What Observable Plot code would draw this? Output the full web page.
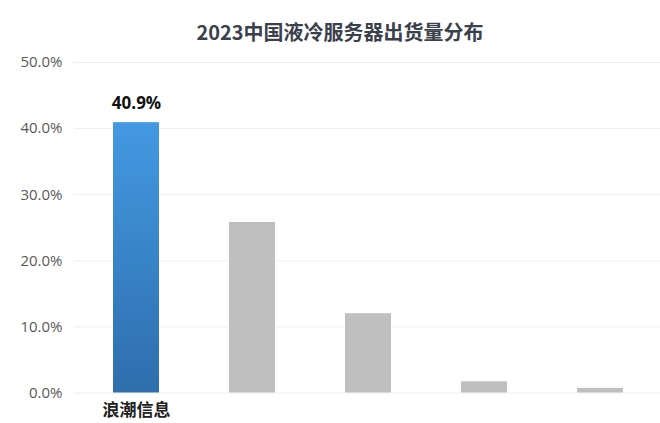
<!DOCTYPE html>
<html>
<head>
<meta charset="utf-8">
<script src="https://cdn.jsdelivr.net/npm/d3@7"></script>
<script src="https://cdn.jsdelivr.net/npm/@observablehq/plot@0.6"></script>
<style>
  body { margin: 0; background: #fff; width: 660px; height: 423px; overflow: hidden; }
  #title { box-sizing: border-box; height: 48px; padding-top: 20px; padding-left: 20px; text-align: center;
    font-family: "Noto Sans CJK SC", "Noto Sans", sans-serif; font-weight: 700; font-size: 20px; line-height: 24px; color: #3a414d; }
  svg { display: block; }
</style>
</head>
<body>
<div id="title">2023中国液冷服务器出货量分布</div>
<div id="chart"></div>
<script>
const title = "2023中国液冷服务器出货量分布";
const categories = ["浪潮信息", "厂商2", "厂商3", "厂商4", "厂商5"];
const shares = [40.9, 25.8, 12.0, 1.7, 0.7];
const yTicks = [0, 10, 20, 30, 40, 50];
const highlight = "浪潮信息";

const data = categories.map((c, i) => ({cat: c, v: shares[i]}));
const main = data.filter(d => d.cat === highlight);
const rest = data.filter(d => d.cat !== highlight);

const chart = Plot.plot({
  width: 660,
  height: 375,
  marginLeft: 76,
  marginRight: 0,
  marginTop: 14,
  marginBottom: 30.5,
  style: {fontFamily: "'Open Sans', 'Noto Sans CJK SC', sans-serif", background: "#fff"},
  x: {domain: categories, paddingInner: 0.6, paddingOuter: 0.3, label: null},
  y: {domain: [0, 50], label: null},
  marks: [
    Plot.ruleY(yTicks, {stroke: "#efefef", strokeWidth: 1, insetLeft: -2}),
    Plot.axisY({ticks: yTicks, tickSize: 0, tickPadding: 14, tickFormat: d => d.toFixed(1) + "%",
      fontSize: 15, fill: "#595959", label: null}),
    Plot.axisX({tickSize: 0, tickPadding: 11, tickFormat: d => d === highlight ? d : "",
      fontSize: 17, fontWeight: 700, fill: "#222", fontFamily: "'Noto Sans CJK SC', sans-serif", label: null}),
    Plot.barY(rest, {x: "cat", y: "v", fill: "#bfbfbf"}),
    Plot.barY(main, {x: "cat", y: "v", fill: "url(#blueGrad)"}),
    Plot.text(main, {x: "cat", y: "v", text: d => d.v.toFixed(1) + "%", lineAnchor: "bottom", dy: -14,
      fontSize: 17, fontWeight: 700, fill: "#111"})
  ]
});

const defs = d3.select(chart).insert("defs", ":first-child");
const g = defs.append("linearGradient").attr("id", "blueGrad").attr("x1", 0).attr("y1", 0).attr("x2", 0).attr("y2", 1);
g.append("stop").attr("offset", "0%").attr("stop-color", "#4399e2");
g.append("stop").attr("offset", "100%").attr("stop-color", "#2e6ead");

document.getElementById("chart").appendChild(chart);
</script>
</body>
</html>
